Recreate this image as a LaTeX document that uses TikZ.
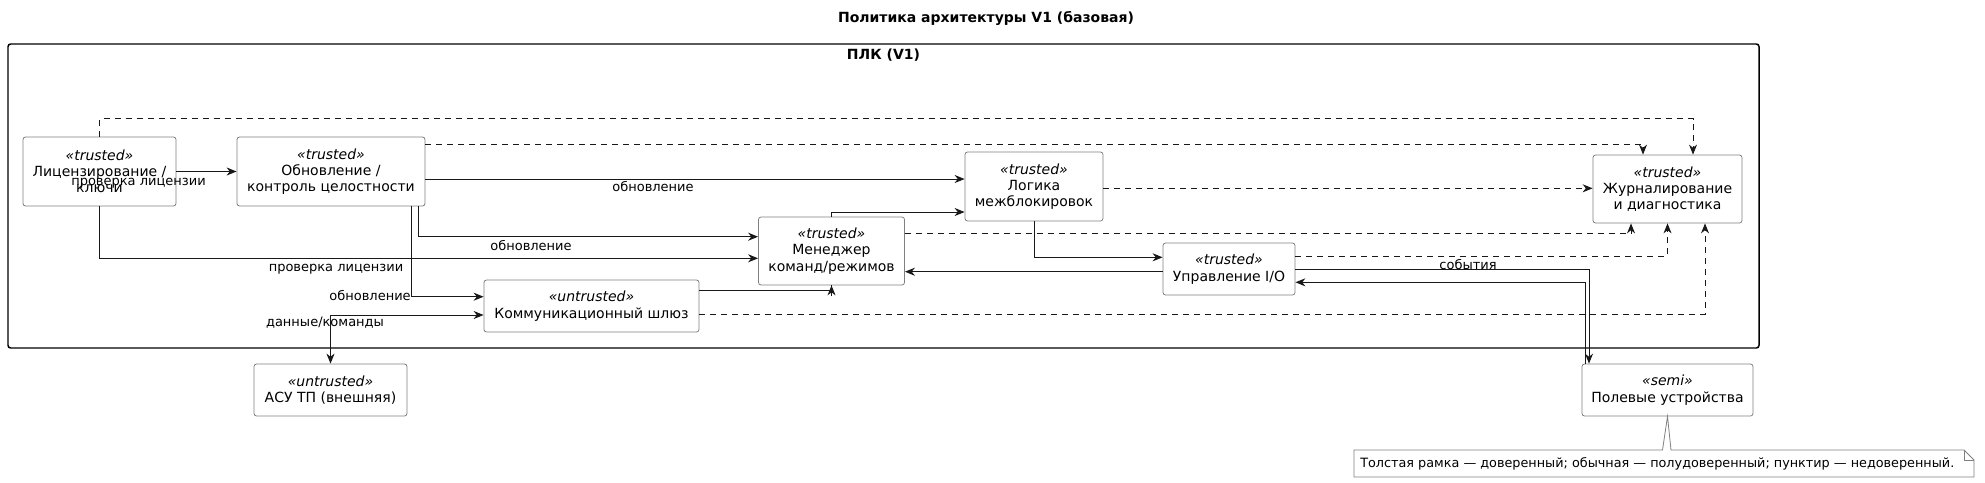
\documentclass[tikz,border=0pt]{standalone}
\usepackage{fontspec}
\setmainfont{DejaVu Sans}
\usetikzlibrary{arrows.meta,calc}
\newcommand\pxl[1]{#1*0.75pt}
\definecolor{boxline}{RGB}{128,128,128}
\definecolor{ink}{RGB}{24,24,24}
\tikzset{
  box/.style={draw=boxline, line width=0.6pt, rounded corners=1.9pt, fill=white, align=center,
    inner sep=0pt, font=\fontsize{10.5}{12.2}\selectfont, text=black},
  lbl/.style={font=\fontsize{9.75}{11}\selectfont, inner sep=0pt, text=black},
  tip/.tip={Stealth[length=7.5pt,width=6pt,inset=2.4pt]},
  arr/.style={draw=ink, line width=0.75pt, -tip},
  arrtwo/.style={draw=ink, line width=0.75pt, tip-tip},
  dsh/.style={arr, dash pattern=on 4.5pt off 3.75pt},
  plcframe/.style={draw=black, line width=1.1pt, rounded corners=2pt, inner sep=0pt},
  notebox/.style={draw=boxline, line width=0.6pt, fill=white},
}
\begin{document}
\begin{tikzpicture}[x=0.75pt, y=-0.75pt]
\useasboundingbox (0,0) rectangle (1985,482);
% title
\node[font=\fontsize{10.5}{12}\selectfont\bfseries, inner sep=0pt] (title) at (986,18) {Политика архитектуры V1 (базовая)};
% frame
\node[plcframe, minimum width=\pxl{1751}, minimum height=\pxl{304}] (plc) at (883.5,196) {};
\node[font=\fontsize{10.5}{12}\selectfont\bfseries, inner sep=0pt] (plclbl) at (883.5,55) {ПЛК (V1)};
% boxes
\node[box, minimum width=\pxl{153}, minimum height=\pxl{69}] (lic) at (99.5,171.5) {\textit{«trusted»}\\Лицензирование /\\ключи};
\node[box, minimum width=\pxl{188}, minimum height=\pxl{69}] (upd) at (331,171.5) {\textit{«trusted»}\\Обновление /\\контроль целостности};
\node[box, minimum width=\pxl{138}, minimum height=\pxl{69}] (logic) at (1034,186.5) {\textit{«trusted»}\\Логика\\межблокировок};
\node[box, minimum width=\pxl{149}, minimum height=\pxl{68}] (journal) at (1667.5,189) {\textit{«trusted»}\\Журналирование\\и диагностика};
\node[box, minimum width=\pxl{146}, minimum height=\pxl{68}] (mgr) at (831.5,251) {\textit{«trusted»}\\Менеджер\\команд/режимов};
\node[box, minimum width=\pxl{132}, minimum height=\pxl{52}] (io) at (1229,269) {\textit{«trusted»}\\Управление I/O};
\node[box, minimum width=\pxl{215}, minimum height=\pxl{52}] (gw) at (591.5,306) {\textit{«untrusted»}\\Коммуникационный шлюз};
\node[box, minimum width=\pxl{153}, minimum height=\pxl{52}] (asu) at (330.5,390) {\textit{«untrusted»}\\АСУ ТП (внешняя)};
\node[box, minimum width=\pxl{171}, minimum height=\pxl{52}] (field) at (1667.5,390) {\textit{«semi»}\\Полевые устройства};
% note
\draw[notebox] (1354,450) -- (1662.5,450) -- (field.south) -- (1671,450) -- (1964,450) -- (1974,460) -- (1974,477) -- (1354,477) -- cycle;
\draw[notebox, fill=none] (1964,450) -- (1964,460) -- (1974,460);
\node[lbl, font=\fontsize{9.6}{11}\selectfont, anchor=west] (note) at (1360,463.5) {Толстая рамка — доверенный; обычная — полудоверенный; пунктир — недоверенный.};
% solid connectors
\draw[arr] (lic.east) -- (upd.west |- lic.east);
\draw[arr] (lic.south) |- (mgr.west |- 0,258.3);
\draw[arr] (upd.east |- 0,179) -- (logic.west |- 0,179);
\draw[arr] (upd.south -| 418,0) |- (mgr.west |- 0,236.7);
\draw[arr] (upd.south -| 411.6,0) |- (gw.west |- 0,296.7);
\draw[arr] (logic.south) |- (io.west |- 0,257.3);
\draw[arr] (mgr.north) |- (logic.west |- 0,212);
\draw[arr] (io.west |- 0,271.7) -- (mgr.east |- 0,271.7);
\draw[draw=ink, line width=0.75pt] (gw.east |- 0,290) -| (mgr.south);
\draw[arr] ($(mgr.south)+(0,11)$) -- (mgr.south);
\draw[arr] (io.east |- 0,269.3) -| (field.north -| 1589,0);
\draw[arr] (field.north -| 1585,0) |- (io.east |- 0,282.3);
\draw[arrtwo] (gw.west |- 0,315) -| (asu.north);
% dashed connectors
\draw[dsh] (upd.east |- 0,144) -| (journal.north -| 1643,0);
\draw[dsh] (lic.north) -- ++(0,-18) -| (journal.north -| 1693,0);
\draw[dsh] (logic.east |- 0,188.3) -- (journal.west |- 0,188.3);
\draw[dsh] (mgr.east |- 0,233.3) -| (journal.south -| 1631,0);
\draw[dsh] (io.east |- 0,256) -| (journal.south);
\draw[dsh] (gw.east |- 0,314.3) -| (journal.south -| 1705,0);
% labels
\node[lbl, anchor=base] (l1) at (138.5,185) {проверка лицензии};
\node[lbl, anchor=base] (l2) at (653,191.5) {обновление};
\node[lbl, anchor=base] (l3) at (531,250.5) {обновление};
\node[lbl, anchor=base] (l4) at (336,271.5) {проверка лицензии};
\node[lbl, anchor=base east] (l5) at (411,300) {обновление};
\node[lbl, anchor=base] (l6) at (325,326) {данные/команды};
\node[lbl, anchor=base] (l7) at (1468,269) {события};
\end{tikzpicture}
\end{document}
